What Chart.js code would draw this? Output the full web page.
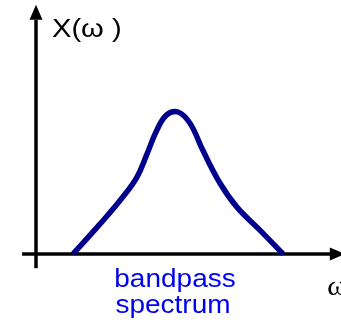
<!DOCTYPE html>
<html lang="en">
<head>
  <meta charset="UTF-8">
  <title>Bandpass spectrum</title>
  <script src="https://cdn.jsdelivr.net/npm/chart.js@4"></script>
  <style>
    html, body { margin: 0; padding: 0; background: #fff; }
    canvas { display: block; }
  </style>
</head>
<body>
  <canvas id="spectrum" width="341" height="323"></canvas>
  <script>
    // frequency (omega, centre of band at 10) and magnitude (peak = 1)
    const omega = [2.6, 4.5, 6.1, 7.1, 7.8, 8.5, 9.2, 10.0, 10.85, 11.75, 12.95, 14.15, 15.75, 17.4];
    const magnitude = [0.0, 0.21, 0.40, 0.54, 0.70, 0.87, 0.98, 1.0, 0.92, 0.73, 0.50, 0.33, 0.17, 0.0];
    const yLabel = 'X(\u03c9 )';
    const xLabel = '\u03c9';
    const bandLabel = ['bandpass', 'spectrum'];

    const points = omega.map((w, i) => ({ x: w, y: magnitude[i] }));

    // Axes with arrows and the text labels
    const axesPlugin = {
      id: 'axes',
      beforeDatasetsDraw(chart) {
        const ctx = chart.ctx;
        const xs = chart.scales.x, ys = chart.scales.y;
        const x0 = xs.getPixelForValue(0);
        const y0 = ys.getPixelForValue(0);
        ctx.save();
        ctx.strokeStyle = '#000';
        ctx.fillStyle = '#000';
        ctx.lineWidth = 3.5;
        // vertical axis
        ctx.beginPath();
        ctx.moveTo(x0, ys.getPixelForValue(-0.1));
        ctx.lineTo(x0, ys.getPixelForValue(1.65));
        ctx.stroke();
        const yTip = ys.getPixelForValue(1.755);
        ctx.beginPath();
        ctx.moveTo(x0, yTip);
        ctx.lineTo(x0 - 6.5, yTip + 15);
        ctx.lineTo(x0 + 6.5, yTip + 15);
        ctx.closePath();
        ctx.fill();
        // horizontal axis
        ctx.beginPath();
        ctx.moveTo(xs.getPixelForValue(-0.98), y0);
        ctx.lineTo(xs.getPixelForValue(21.0), y0);
        ctx.stroke();
        const xTip = xs.getPixelForValue(21.75);
        ctx.beginPath();
        ctx.moveTo(xTip, y0);
        ctx.lineTo(xTip - 15, y0 - 6.5);
        ctx.lineTo(xTip - 15, y0 + 6.5);
        ctx.closePath();
        ctx.fill();

        function stretched(text, x, y, align) {
          ctx.save();
          ctx.translate(x, y);
          ctx.scale(1.12, 1);
          ctx.textAlign = align;
          ctx.fillText(text, 0, 0);
          ctx.restore();
        }
        ctx.textBaseline = 'alphabetic';
        ctx.font = '26px "Liberation Sans", Arial, sans-serif';
        stretched(yLabel, 52, 37, 'left');
        ctx.font = '28px "Liberation Serif", "Times New Roman", serif';
        stretched(xLabel, 327, 295, 'left');
        ctx.fillStyle = '#0000f0';
        ctx.font = '25px "Liberation Sans", Arial, sans-serif';
        stretched(bandLabel[0], 175, 287, 'center');
        stretched(bandLabel[1], 173, 313, 'center');
        ctx.restore();
      }
    };

    new Chart(document.getElementById('spectrum'), {
      type: 'scatter',
      data: {
        datasets: [{
          data: points,
          showLine: true,
          borderColor: '#00008c',
          borderWidth: 5.5,
          pointRadius: 0,
          tension: 0.4,
          borderCapStyle: 'butt',
          borderJoinStyle: 'round',
          fill: false
        }]
      },
      options: {
        responsive: false,
        animation: false,
        layout: { padding: 0 },
        plugins: { legend: { display: false }, tooltip: { enabled: false } },
        scales: {
          x: { type: 'linear', display: false, min: -2.535, max: 21.48 },
          y: { type: 'linear', display: false, min: -0.486, max: 1.789 }
        }
      },
      plugins: [axesPlugin]
    });
  </script>
</body>
</html>
